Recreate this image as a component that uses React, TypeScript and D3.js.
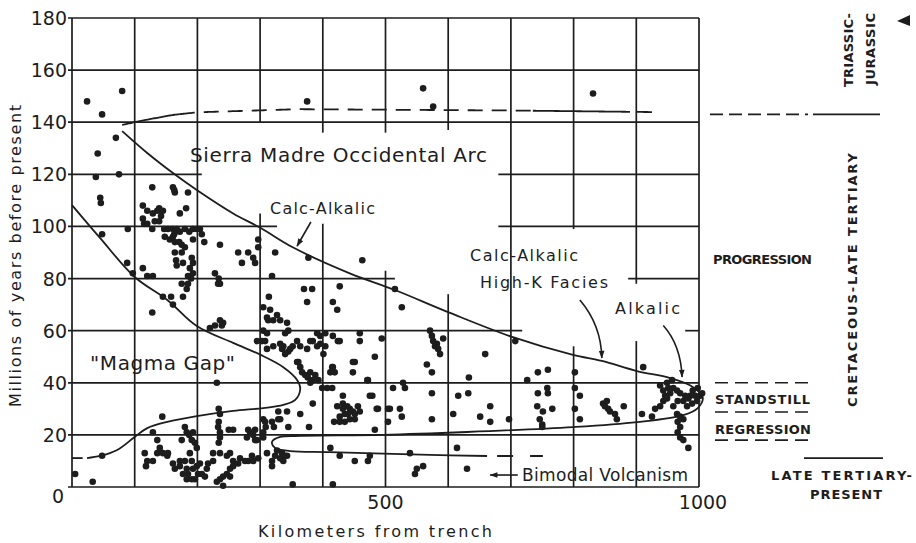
import React, { useEffect, useRef } from "react";
import * as d3 from "d3";

const W = 916;
const H = 543;
const INK = "#1d1d1d";
const FONT = "'DejaVu Sans', 'Liberation Sans', sans-serif";

// axes
const xTickValues = [500, 1000];
const yTickValues = [20, 40, 60, 80, 100, 120, 140, 160, 180];

// grid: [value, [from, to] spans]
const verticalGrid: [number, [number, number][]][] = [
	[0, [[0, 180]]],
	[100, [[0, 180]]],
	[200, [[0, 180]]],
	[300, [[0, 105], [140, 180]]],
	[400, [[0, 101], [136, 180]]],
	[500, [[0, 83], [136, 180]]],
	[600, [[0, 74], [137, 180]]],
	[700, [[0, 180]]],
	[800, [[0, 54], [99, 180]]],
	[900, [[0, 56], [78, 180]]],
	[1000, [[0, 180]]],
];
const horizontalGrid: [number, [number, number][]][] = [
	[0, [[0, 1000]]],
	[20, [[0, 1000]]],
	[40, [[0, 1000]]],
	[60, [[0, 718], [978, 1000]]],
	[80, [[0, 515], [887, 1000]]],
	[100, [[0, 327], [680, 1000]]],
	[120, [[0, 207], [680, 1000]]],
	[140, [[0, 1000]]],
	[160, [[0, 1000]]],
	[180, [[0, 1000]]],
];

// samples [km from trench, Ma]
const earlyDots = [
	[24, 148], [48, 143], [80, 152], [41, 128], [70, 134], [38, 119], [75, 120], [45, 111], [46, 109],
	[375, 148], [560, 153], [576, 146], [831, 151], [128, 115], [161, 115], [163, 114], [164, 113], [185, 113],
];
const cretaceousDots = [
	[48, 97], [89, 99], [172, 105], [182, 107],
	[113, 108], [120, 106], [129, 105], [136, 106], [139, 107], [145, 106], [142, 104],
	[113, 103], [115, 101], [120, 101], [128, 99], [132, 102], [139, 102],
	[147, 99], [153, 99], [161, 99], [163, 97], [167, 99], [172, 98], [180, 99], [187, 98], [193, 99], [199, 99], [204, 99], [207, 97], [211, 94],
	[148, 96], [156, 95], [161, 96], [164, 94], [171, 94], [175, 93], [180, 92], [193, 95],
	[236, 93], [297, 95], [297, 92],
	[164, 90], [175, 90], [166, 87], [177, 86], [167, 85],
	[191, 88], [193, 86], [188, 84], [193, 82], [185, 81], [190, 80], [185, 78], [183, 76], [175, 78],
	[265, 90], [281, 90], [271, 86], [289, 88], [292, 86],
	[324, 90], [319, 81], [88, 86], [97, 82], [113, 84], [120, 81], [129, 81],
	[145, 73], [158, 73], [161, 70], [177, 73], [128, 67],
	[228, 82], [234, 80], [233, 78], [236, 78],
	[220, 61], [228, 62], [236, 64], [239, 62], [241, 63],
	[370, 76], [383, 76], [375, 71],
	[314, 73], [305, 69], [316, 68], [313, 64], [311, 65], [327, 66], [321, 64], [332, 64], [343, 63], [345, 60], [340, 59],
	[305, 60], [311, 59], [308, 56], [311, 53], [303, 56], [295, 56],
	[321, 54], [335, 53], [332, 55], [337, 54], [352, 54], [348, 53], [359, 56], [380, 56], [375, 53], [384, 56], [391, 54],
	[377, 88], [463, 87], [427, 77], [416, 71], [423, 68], [515, 76], [526, 69],
	[404, 59], [416, 58], [427, 56], [391, 59], [396, 58], [396, 55], [404, 54],
	[459, 59], [459, 56], [494, 57], [483, 50],
	[571, 60], [574, 58], [576, 56], [582, 55], [579, 54], [584, 53], [587, 51], [592, 57],
	[659, 51], [707, 56],
];
const standstillDots = [
	[359, 48], [364, 46], [367, 44], [372, 43], [380, 44], [376, 42], [384, 41],
	[345, 52], [340, 51], [364, 54], [361, 48], [388, 43], [393, 41], [412, 44], [416, 46], [401, 51], [424, 56], [451, 48], [472, 41], [380, 40],
	[448, 48], [448, 44], [415, 46], [419, 44], [566, 47], [574, 44], [633, 42], [726, 41], [743, 44], [759, 45], [911, 46], [802, 44],
	[512, 38], [528, 40], [531, 38], [574, 36], [432, 35], [475, 35], [507, 30], [384, 32], [364, 28], [378, 23],
	[399, 38], [407, 38], [415, 38], [479, 35], [488, 30], [471, 41],
	[423, 31], [432, 32], [439, 31], [443, 30], [448, 29], [440, 28], [435, 28], [427, 27], [443, 26], [451, 28], [456, 31], [459, 29],
	[418, 25], [427, 25], [435, 25], [451, 26], [432, 30],
	[486, 30], [504, 30], [523, 30], [526, 27], [504, 25], [483, 22], [574, 26],
	[608, 28], [616, 35], [632, 36], [651, 27], [667, 31], [667, 25], [697, 26],
	[743, 36], [758, 38], [759, 36], [742, 31], [751, 29], [766, 30], [746, 26], [750, 24], [750, 23],
	[802, 38], [810, 35], [802, 30], [810, 26],
	[847, 32], [850, 31], [855, 30], [858, 29], [866, 28], [869, 26], [880, 31], [853, 33],
	[231, 40],
];
const alkalicDots = [
	[909, 28], [925, 27], [930, 30], [938, 31], [943, 33], [949, 34], [943, 37], [949, 40], [957, 41], [959, 38],
	[965, 37], [970, 36], [966, 33], [975, 33], [981, 31], [989, 32], [997, 33], [1002, 35], [1005, 36], [998, 38],
	[990, 37], [986, 35], [983, 34], [959, 31], [965, 28], [970, 27], [975, 26], [966, 25], [970, 23], [966, 21],
	[970, 19], [975, 18], [983, 15], [951, 38], [954, 36], [946, 35], [978, 35], [994, 35], [938, 39],
];
const youngDots = [
	[144, 27], [129, 21], [136, 18], [180, 23], [183, 21], [175, 18], [187, 20], [193, 21], [191, 18], [196, 17], [199, 15],
	[234, 30], [236, 28], [234, 25], [233, 23], [236, 21], [236, 19], [234, 17],
	[250, 22], [257, 22], [281, 22], [289, 20], [295, 18],
	[305, 26], [308, 25], [309, 23], [305, 21],
	[329, 29], [343, 29], [329, 26], [319, 25], [322, 23],
	[279, 19], [292, 22], [284, 21], [305, 19], [292, 18], [332, 26], [345, 23],
	[152, 12], [161, 9], [172, 10], [164, 7], [172, 8], [180, 10], [188, 13], [191, 10], [183, 7], [177, 5],
	[185, 5], [193, 7], [199, 8], [204, 9], [201, 5], [196, 3], [191, 3], [183, 3], [207, 5], [212, 4],
	[215, 7], [217, 9], [225, 10], [225, 13], [236, 13], [247, 12], [252, 13], [257, 10], [257, 8], [252, 7],
	[247, 5], [241, 4], [236, 3], [231, 2], [241, 0.5], [252, 4], [265, 9], [268, 11], [276, 10], [281, 10],
	[287, 12], [289, 10], [297, 11], [311, 13], [319, 10], [324, 12], [327, 14], [335, 13], [337, 10], [340, 12], [319, 8],
	[116, 13], [120, 10], [118, 8], [129, 10], [136, 13], [145, 13], [140, 15], [153, 13],
	[5, 5], [33, 2], [48, 12], [352, 1],
	[614, 15], [539, 13], [412, 15], [427, 12], [451, 10], [472, 10], [475, 12], [550, 7], [560, 8], [547, 5], [630, 7], [416, 1],
	[337, 12], [343, 12], [332, 11],
];

// Triassic-Jurassic limit
const tjKm = [80, 120, 161, 199, 360, 500, 700, 925];
const tjMa = [139, 141, 142.8, 143.8, 145, 144.8, 144.5, 143.9];
const tjSegments = [[80, 172, 0], [172, 735, 1], [735, 890, 0], [901, 925, 0]];

// Calc-alkalic front, alkalic tip and bimodal tongue
const arcFront = [
	[80, 136.6], [120, 128.2], [161, 120.5], [199, 114], [257, 105], [301, 99.4], [352, 92], [443, 82],
	[515, 75.6], [603, 66.8], [702, 57.6], [799, 50.7], [845, 48.4], [901, 44.5], [954, 41.8], [990, 38.4],
	[1006, 34.2], [998, 30.3], [975, 27.6], [901, 24.9], [799, 23], [630, 21.1], [496, 20], [364, 19.6],
	[332, 19.2], [319, 17.3], [324, 15], [348, 13.8], [411, 13.4], [571, 12.3], [662, 11.9],
];
const bimodalTail = [[662, 11.9], [751, 11.9]];

// trailing edge of the arc (magma gap)
const magmaGap = [
	[0, 108.2], [45, 95.5], [100, 80.6], [152, 71.8], [199, 61.8], [257, 55.3], [301, 50.7], [337, 46],
	[359, 41.1], [364, 37.6], [356, 33.4], [337, 31.5], [305, 30.3], [257, 29.2], [199, 27.2], [152, 25],
	[120, 22.6], [100, 19.2], [72, 14.2], [45, 11.9], [24, 11.1],
];
const magmaGapTail = [[0, 11.1], [17, 11.1]];

export default function App() {
	const ref = useRef<SVGSVGElement>(null);

	useEffect(() => {
		const svg = d3.select(ref.current);
		svg.selectAll("*").remove();

		const x = d3.scaleLinear().domain([0, 1000]).range([72, 699]);
		const y = d3.scaleLinear().domain([0, 180]).range([487, 18]);

		svg.append("rect").attr("width", W).attr("height", H).attr("fill", "#fff");

		svg.append("defs")
			.append("marker")
			.attr("id", "head")
			.attr("viewBox", "0 0 10 10")
			.attr("refX", 9)
			.attr("refY", 5)
			.attr("markerWidth", 10)
			.attr("markerHeight", 8)
			.attr("markerUnits", "userSpaceOnUse")
			.attr("orient", "auto")
			.append("path")
			.attr("d", "M0,1.5L10,5L0,8.5Z")
			.attr("fill", INK);

		// grid
		const grid = svg.append("g").attr("stroke", INK).attr("stroke-width", 1.7);
		verticalGrid.forEach(([km, spans]) =>
			spans.forEach(([a, b]) =>
				grid.append("line").attr("x1", x(km)).attr("x2", x(km)).attr("y1", y(a)).attr("y2", y(b))
			)
		);
		horizontalGrid.forEach(([ma, spans]) =>
			spans.forEach(([a, b]) =>
				grid.append("line")
					.attr("x1", a === 0 ? x(a) - 4 : x(a))
					.attr("x2", x(b))
					.attr("y1", y(ma))
					.attr("y2", y(ma))
			)
		);

		// curves
		const curves = svg.append("g").attr("fill", "none").attr("stroke", INK).attr("stroke-width", 1.8);
		const smooth = d3.line().x((d) => x(d[0])).y((d) => y(d[1])).curve(d3.curveCatmullRom.alpha(0.5));
		const straight = d3.line().x((d) => x(d[0])).y((d) => y(d[1]));

		const tj = d3.scaleLinear().domain(tjKm).range(tjMa);
		tjSegments.forEach(([a, b, dashed]) => {
			const pts = d3.range(a, b, 4).concat(b).map((k) => [k, tj(k)]);
			curves.append("path")
				.attr("d", smooth(pts))
				.attr("stroke-dasharray", dashed ? "15,9" : null);
		});

		curves.append("path").attr("d", smooth(arcFront));
		curves.append("path").attr("d", straight(bimodalTail)).attr("stroke-dasharray", "0,10,16,17,13,60");
		curves.append("path").attr("d", smooth(magmaGap));
		curves.append("path").attr("d", straight(magmaGapTail));

		// samples
		svg.append("g")
			.attr("fill", INK)
			.selectAll("circle")
			.data([...earlyDots, ...cretaceousDots, ...standstillDots, ...alkalicDots, ...youngDots])
			.join("circle")
			.attr("cx", (d) => x(d[0]))
			.attr("cy", (d) => y(d[1]))
			.attr("r", 3.3);

		// text helper
		const label = (tx, ty, str, size, len, rotate = false, bold = false) => {
			const t = svg.append("text")
				.attr("font-family", FONT)
				.attr("font-size", size)
				.attr("font-weight", bold ? "bold" : "normal")
				.attr("fill", INK)
				.text(str);
			if (rotate) t.attr("transform", `translate(${tx},${ty}) rotate(-90)`);
			else t.attr("x", tx).attr("y", ty);
			if (len) t.attr("textLength", len).attr("lengthAdjust", "spacing");
			return t;
		};

		// ticks
		yTickValues.forEach((v) => label(67, y(v) + 7, String(v), 19, 0).attr("text-anchor", "end"));
		label(x(0) - 14, y(0) + 16, "0", 19, 0).attr("text-anchor", "middle");
		xTickValues.forEach((v) => label(x(v) + (v === 1000 ? 4 : 0), y(0) + 22, String(v), 19, 0).attr("text-anchor", "middle"));

		label(258, 537, "Kilometers  from  trench", 16, 234);
		label(21, 407, "Millions of years before present", 16, 302, true);

		// annotations in the plot
		label(190, 162, "Sierra Madre Occidental Arc", 20, 297);
		label(270, 214, "Calc-Alkalic", 16, 105);
		label(470, 261, "Calc-Alkalic", 16, 108);
		label(480, 288, "High-K Facies", 16, 128);
		label(615, 314, "Alkalic", 16, 65);
		label(90, 370, "\"Magma Gap\"", 20, 145);
		label(522, 481, "Bimodal Volcanism", 17, 166);

		const arrows = svg.append("g").attr("fill", "none").attr("stroke", INK).attr("stroke-width", 1.6);
		arrows.append("path")
			.attr("d", `M${x(381)},${y(101.7)}L${x(359)},${y(92.5)}`)
			.attr("marker-end", "url(#head)");
		arrows.append("path")
			.attr("d", `M${x(810)},${y(71.8)}Q${x(844)},${y(62.2)} ${x(845)},${y(49.5)}`)
			.attr("marker-end", "url(#head)");
		arrows.append("path")
			.attr("d", `M${x(943)},${y(62)}Q${x(971)},${y(54.5)} ${x(973)},${y(42.2)}`)
			.attr("marker-end", "url(#head)");
		arrows.append("path")
			.attr("d", `M${x(711)},${y(4.6)}L${x(667)},${y(4.6)}`)
			.attr("marker-end", "url(#head)");

		// time column on the right
		const side = svg.append("g").attr("stroke", INK).attr("stroke-width", 1.6);
		side.append("line").attr("x1", 710).attr("x2", 808).attr("y1", y(143)).attr("y2", y(143)).attr("stroke-dasharray", "13,6");
		side.append("line").attr("x1", 813).attr("x2", 880).attr("y1", y(143)).attr("y2", y(143));
		[40, 28.8, 18].forEach((ma) =>
			side.append("line").attr("x1", 715).attr("x2", 808).attr("y1", y(ma)).attr("y2", y(ma)).attr("stroke-dasharray", "13,7")
		);
		side.append("line").attr("x1", 804).attr("x2", 883).attr("y1", y(11.1)).attr("y2", y(11.1));
		svg.append("path").attr("d", "M897,21L910,15L910,26Z").attr("fill", INK);

		label(853, 87, "TRIASSIC-", 13, 74, true, true);
		label(875, 85, "JURASSIC", 13, 72, true, true);
		label(857, 407, "CRETACEOUS-LATE TERTIARY", 13, 254, true, true);
		label(713, 264, "PROGRESSION", 13, 99, false, true);
		label(715, 404, "STANDSTILL", 13, 95, false, true);
		label(715, 434, "REGRESSION", 13, 96, false, true);
		label(771, 480, "LATE TERTIARY-", 13, 141, false, true);
		label(810, 499, "PRESENT", 13, 72, false, true);
	}, []);

	return (
		<svg
			ref={ref}
			width={W}
			height={H}
			style={{ position: "absolute", left: 0, top: 0, display: "block" }}
		/>
	);
}
